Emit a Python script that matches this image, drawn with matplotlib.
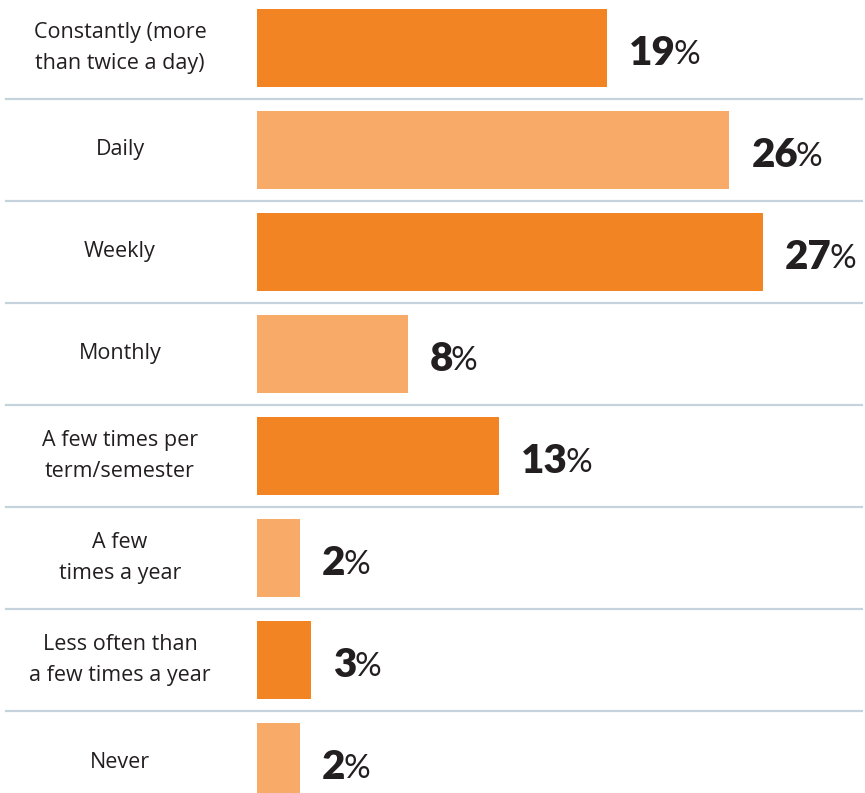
import matplotlib.pyplot as plt

# categories top to bottom
categories = [
    'Constantly (more\nthan twice a day)',
    'Daily',
    'Weekly',
    'Monthly',
    'A few times per\nterm/semester',
    'A few\ntimes a year',
    'Less often than\na few times a year',
    'Never',
]
# bar lengths (estimated from widths) and printed labels
values = [18.8, 25.4, 27.2, 8.1, 13.0, 2.3, 2.9, 2.3]
labels = [19, 26, 27, 8, 13, 2, 3, 2]

dark = '#F38423'
light = '#F8AA69'
colours = [dark if i % 2 == 0 else light for i in range(len(values))]

fig = plt.figure(figsize=(8.65, 7.93), dpi=100)
ax = fig.add_axes([257 / 865, 0, 608 / 865, 1])

ypos = list(range(len(values)))
ax.barh(ypos, values, height=0.765, color=colours, zorder=2)
ax.set_xlim(0, 608 / 18.6)
ax.set_ylim((793 - 48) / 102, -48 / 102)
ax.axis('off')

# separator lines between rows
trans = ax.get_yaxis_transform()
for i in range(len(values) - 1):
    ax.plot([-251 / 608, 605 / 608], [i + 0.5, i + 0.5], color='#C5D3DD',
            lw=1.6, transform=trans, clip_on=False, zorder=1)

# category labels on the left
for y, cat in zip(ypos, categories):
    ax.text(-137 / 608, y, cat, transform=trans, ha='center', va='center',
            fontsize=15.5, family='Open Sans', color='#231F20', linespacing=1.6)

# value labels: bold number + lighter percent sign
for y, v, lab in zip(ypos, values, labels):
    t = ax.text(v + 22 / 18.6, y + 0.05, str(lab), ha='left', va='center',
                fontsize=29, fontweight='heavy', family='Lato', color='#231F20')
    ax.annotate('%', xy=(1, 0), xycoords=t, xytext=(-1.5, 1.3),
                textcoords='offset points', ha='left', va='bottom',
                fontsize=24, family='Lato', color='#231F20')

fig.savefig('out.png', dpi=100)
